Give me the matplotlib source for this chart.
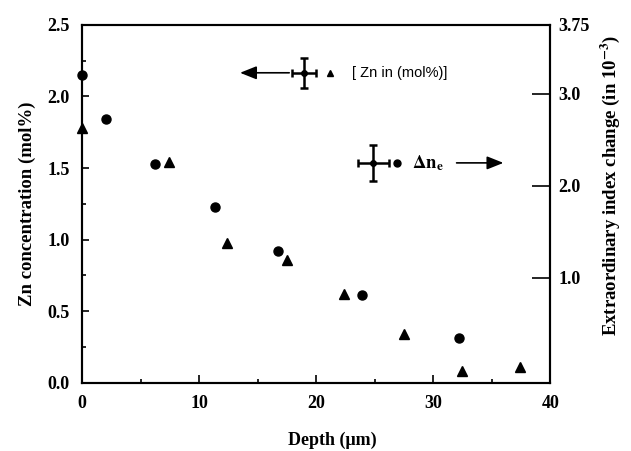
import matplotlib
matplotlib.use('Agg')
import matplotlib.pyplot as plt
from matplotlib.ticker import MultipleLocator
import numpy as np

## data
depth_zn = [0, 7.4, 12.4, 17.5, 22.4, 27.5, 32.5, 37.4]
zn_mol = [1.78, 1.54, 0.98, 0.86, 0.62, 0.34, 0.08, 0.11]

depth_dn = [0, 2.05, 6.25, 11.4, 16.7, 23.9, 32.2]
delta_ne = [3.21, 2.73, 2.24, 1.77, 1.29, 0.82, 0.35]

right_ticks = [1.0, 2.0, 3.0, 3.75]
right_labels = ['1.0', '2.0', '3.0', '3.75']

plt.rcParams['font.family'] = ['Liberation Serif', 'DejaVu Serif']
plt.rcParams['font.weight'] = 'bold'
plt.rcParams['mathtext.fontset'] = 'stix'

fig = plt.figure(figsize=(6.31, 4.51), dpi=100)
ax = fig.add_axes([0.130, 0.151, 0.742, 0.794])
ax2 = ax.twinx()

## data markers
ax.plot(depth_zn, zn_mol, '^', color='black', ms=6.5, clip_on=False, zorder=5)
ax2.plot(depth_dn, delta_ne, 'o', color='black', ms=6.5, clip_on=False, zorder=5)

## key drawn inside the plot
ax.errorbar([19.0], [2.165], xerr=1.03, yerr=0.105, fmt='o', color='black',
            ms=4, capsize=3, elinewidth=1.8, capthick=1.8)
ax.plot([21.2], [2.165], '^', color='black', ms=5)
ax.text(23.1, 2.165, '[ Zn in (mol%)]', family=['Liberation Sans'], weight='normal',
        fontsize=10.5, va='center', ha='left')
ax.annotate('', xy=(13.5, 2.165), xytext=(17.7, 2.165),
            arrowprops=dict(arrowstyle='-|>,head_length=1.0,head_width=0.4',
                            color='black', lw=1.2, shrinkA=0, shrinkB=0))

ax.errorbar([24.9], [1.536], xerr=1.3, yerr=0.125, fmt='o', color='black',
            ms=4, capsize=3, elinewidth=1.8, capthick=1.8)
ax.plot([26.9], [1.536], 'o', color='black', ms=5)
ax.text(28.2, 1.536, r'$\mathbf{\Delta n_e}$', fontsize=13.5, va='center', ha='left')
ax.annotate('', xy=(36.0, 1.536), xytext=(32.0, 1.536),
            arrowprops=dict(arrowstyle='-|>,head_length=1.0,head_width=0.4',
                            color='black', lw=1.2, shrinkA=0, shrinkB=0))

## axes
ax.set_xlim(0, 40)
ax.set_ylim(0, 2.5)
ax2.set_ylim(-0.14, 3.75)

ax.set_xticks([0, 10, 20, 30, 40])
ax.xaxis.set_minor_locator(MultipleLocator(5))
ax.set_yticks(np.arange(0, 2.51, 0.5))
ax.set_yticklabels(['%.1f' % v for v in np.arange(0, 2.51, 0.5)])
ax.yaxis.set_minor_locator(MultipleLocator(0.25))
ax2.set_yticks(right_ticks)
ax2.set_yticklabels(right_labels)

ax.tick_params(axis='x', which='major', direction='in', length=6, width=1.2,
               labelsize=13, pad=9, top=False)
ax.tick_params(axis='x', which='minor', direction='in', length=3, width=1.2, top=False)
ax.tick_params(axis='y', which='major', direction='in', length=5, width=1.2,
               labelsize=13, pad=9, right=False)
ax.tick_params(axis='y', which='minor', direction='in', length=3, width=1.2, right=False)
ax2.tick_params(axis='y', which='major', direction='in', length=13, width=1.2,
                labelsize=13, pad=6)

for a in (ax, ax2):
    for s in a.spines.values():
        s.set_linewidth(1.5)

ax.set_xlabel('Depth (\u03bcm)', fontsize=13, fontweight='bold')
ax.xaxis.set_label_coords(0.534, -0.135)
ax.set_ylabel('Zn concentration (mol%)', fontsize=13.5, fontweight='bold')
ax.yaxis.set_label_coords(-0.098, 0.5)
ax2.set_ylabel(r'Extraordinary index change (in 10$^{\mathbf{-3}}$)', fontsize=13.5,
               fontweight='bold')
ax2.yaxis.set_label_coords(1.103, 0.55)

plt.savefig('out.png', dpi=100)
